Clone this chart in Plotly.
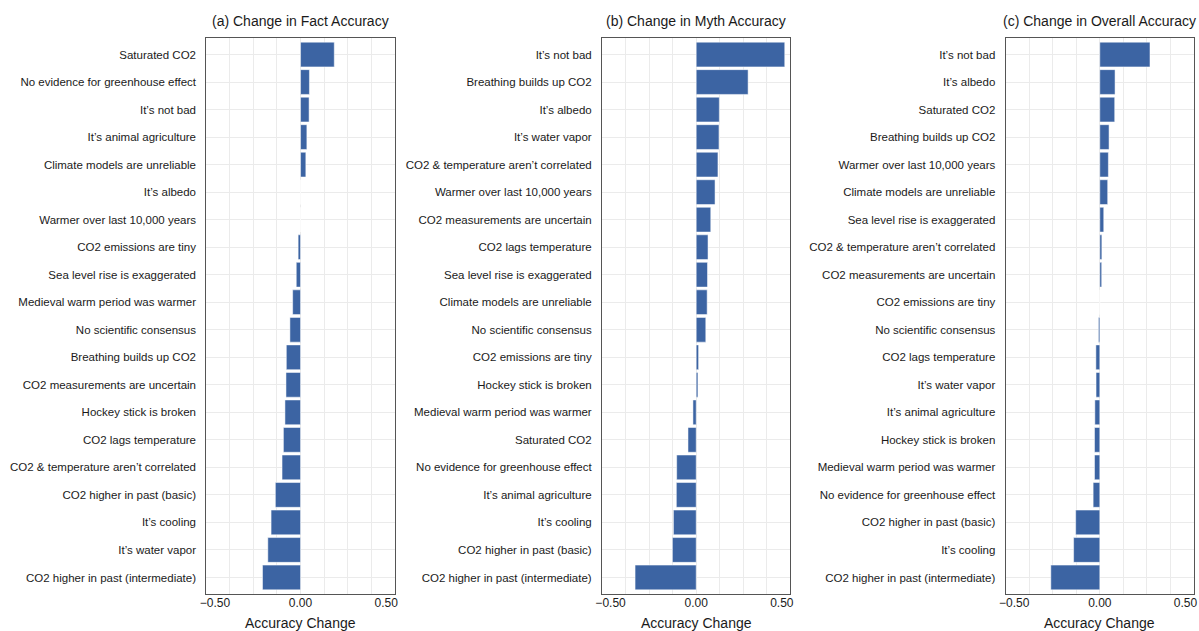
import plotly.graph_objects as go

# Panel (a): change in fact accuracy, top to bottom
fact_labels = [
    "Saturated CO2", "No evidence for greenhouse effect", "It\u2019s not bad",
    "It\u2019s animal agriculture", "Climate models are unreliable", "It\u2019s albedo",
    "Warmer over last 10,000 years", "CO2 emissions are tiny", "Sea level rise is exaggerated",
    "Medieval warm period was warmer", "No scientific consensus", "Breathing builds up CO2",
    "CO2 measurements are uncertain", "Hockey stick is broken", "CO2 lags temperature",
    "CO2 & temperature aren\u2019t correlated", "CO2 higher in past (basic)", "It\u2019s cooling",
    "It\u2019s water vapor", "CO2 higher in past (intermediate)",
]
fact_values = [0.197, 0.052, 0.050, 0.037, 0.031, 0.0, 0.0, -0.014, -0.025, -0.046,
               -0.062, -0.083, -0.085, -0.091, -0.100, -0.108, -0.147, -0.172, -0.191, -0.222]

# Panel (b): change in myth accuracy
myth_labels = [
    "It\u2019s not bad", "Breathing builds up CO2", "It\u2019s albedo", "It\u2019s water vapor",
    "CO2 & temperature aren\u2019t correlated", "Warmer over last 10,000 years",
    "CO2 measurements are uncertain", "CO2 lags temperature", "Sea level rise is exaggerated",
    "Climate models are unreliable", "No scientific consensus", "CO2 emissions are tiny",
    "Hockey stick is broken", "Medieval warm period was warmer", "Saturated CO2",
    "No evidence for greenhouse effect", "It\u2019s animal agriculture", "It\u2019s cooling",
    "CO2 higher in past (basic)", "CO2 higher in past (intermediate)",
]
myth_values = [0.517, 0.303, 0.135, 0.133, 0.127, 0.110, 0.085, 0.069, 0.066, 0.064,
               0.056, 0.014, 0.010, -0.019, -0.048, -0.114, -0.116, -0.133, -0.139, -0.357]

# Panel (c): change in overall accuracy
overall_labels = [
    "It\u2019s not bad", "It\u2019s albedo", "Saturated CO2", "Breathing builds up CO2",
    "Warmer over last 10,000 years", "Climate models are unreliable",
    "Sea level rise is exaggerated", "CO2 & temperature aren\u2019t correlated",
    "CO2 measurements are uncertain", "CO2 emissions are tiny", "No scientific consensus",
    "CO2 lags temperature", "It\u2019s water vapor", "It\u2019s animal agriculture",
    "Hockey stick is broken", "Medieval warm period was warmer",
    "No evidence for greenhouse effect", "CO2 higher in past (basic)", "It\u2019s cooling",
    "CO2 higher in past (intermediate)",
]
overall_values = [0.293, 0.089, 0.087, 0.054, 0.050, 0.046, 0.023, 0.012, 0.011, 0.0,
                  -0.008, -0.023, -0.022, -0.029, -0.031, -0.031, -0.039, -0.141, -0.153, -0.286]

panel_titles = ["(a) Change in Fact Accuracy", "(b) Change in Myth Accuracy",
                "(c) Change in Overall Accuracy"]
x_tick_values = [-0.5, 0.0, 0.5]
x_axis_title = "Accuracy Change"

W, H = 1199, 631
FONT = "Liberation Sans, Arial, sans-serif"
BAR_COLOR = "#3c64a3"
TEXT = "#1a1a1a"
GRID = "#ebebeb"
FRAME = "#555555"

x_lo, x_hi = -0.55, 0.55
grid_step = (x_hi - x_lo) / 8
grid_vals = [k * grid_step for k in range(-3, 4)]

panels = [(fact_labels, fact_values), (myth_labels, myth_values),
          (overall_labels, overall_values)]
x_px = [(201, 391), (600, 790), (1007, 1197)]
y_dom = [37 / H, 593 / H]

fig = go.Figure()
layout = dict(
    width=W, height=H, margin=dict(l=0, r=0, t=0, b=0),
    paper_bgcolor="white", plot_bgcolor="white", showlegend=False,
    font=dict(family=FONT, color=TEXT, size=12),
)
annotations = []

for i, ((labels, values), title, (px0, px1)) in enumerate(zip(panels, panel_titles, x_px)):
    n = i + 1
    xa, ya = f"x{n if n > 1 else ''}", f"y{n if n > 1 else ''}"
    ov = n + 3
    dom = [px0 / W, px1 / W]

    fig.add_trace(go.Bar(
        x=values, y=labels, orientation="h", width=0.9,
        marker=dict(color=BAR_COLOR, line=dict(color="rgba(255,255,255,0.85)", width=0.6)),
        xaxis=xa, yaxis=ya, hoverinfo="x+y",
    ))
    # empty trace so the overlay axis carrying the tick labels is drawn
    fig.add_trace(go.Scatter(x=[], y=[], xaxis=f"x{ov}", yaxis=ya, showlegend=False))

    layout[f"xaxis{n if n > 1 else ''}"] = dict(
        domain=dom, anchor=ya, range=[x_lo, x_hi],
        tickvals=grid_vals, showticklabels=False, ticks="",
        showgrid=True, gridcolor=GRID, gridwidth=1, zeroline=False,
        showline=True, mirror=True, linecolor=FRAME, linewidth=1,
    )
    layout[f"xaxis{ov}"] = dict(
        overlaying=xa, anchor=ya, side="bottom", range=[x_lo, x_hi],
        tickvals=x_tick_values, tickformat=".2f", ticks="",
        showgrid=False, zeroline=False, showline=False,
        tickfont=dict(size=12, color=TEXT, family=FONT),
    )
    layout[f"yaxis{n if n > 1 else ''}"] = dict(
        domain=y_dom, anchor=xa, type="category",
        categoryorder="array", categoryarray=labels,
        range=[len(labels) - 0.4, -0.6],
        showgrid=True, gridcolor=GRID, gridwidth=1, ticks="",
        ticklabelstandoff=7, zeroline=False,
        showline=True, mirror=True, linecolor=FRAME, linewidth=1,
        tickfont=dict(size=11.5, color=TEXT, family=FONT),
    )
    cx = (dom[0] + dom[1]) / 2
    annotations.append(dict(
        text=title, x=cx, y=1 - 21 / H, xref="paper", yref="paper",
        xanchor="center", yanchor="middle", showarrow=False,
        font=dict(size=14, color=TEXT, family=FONT),
    ))
    annotations.append(dict(
        text=x_axis_title, x=cx, y=1 - 623 / H, xref="paper", yref="paper",
        xanchor="center", yanchor="middle", showarrow=False,
        font=dict(size=14, color=TEXT, family=FONT),
    ))

layout["annotations"] = annotations
fig.update_layout(**layout)
fig.write_html("out.html")
